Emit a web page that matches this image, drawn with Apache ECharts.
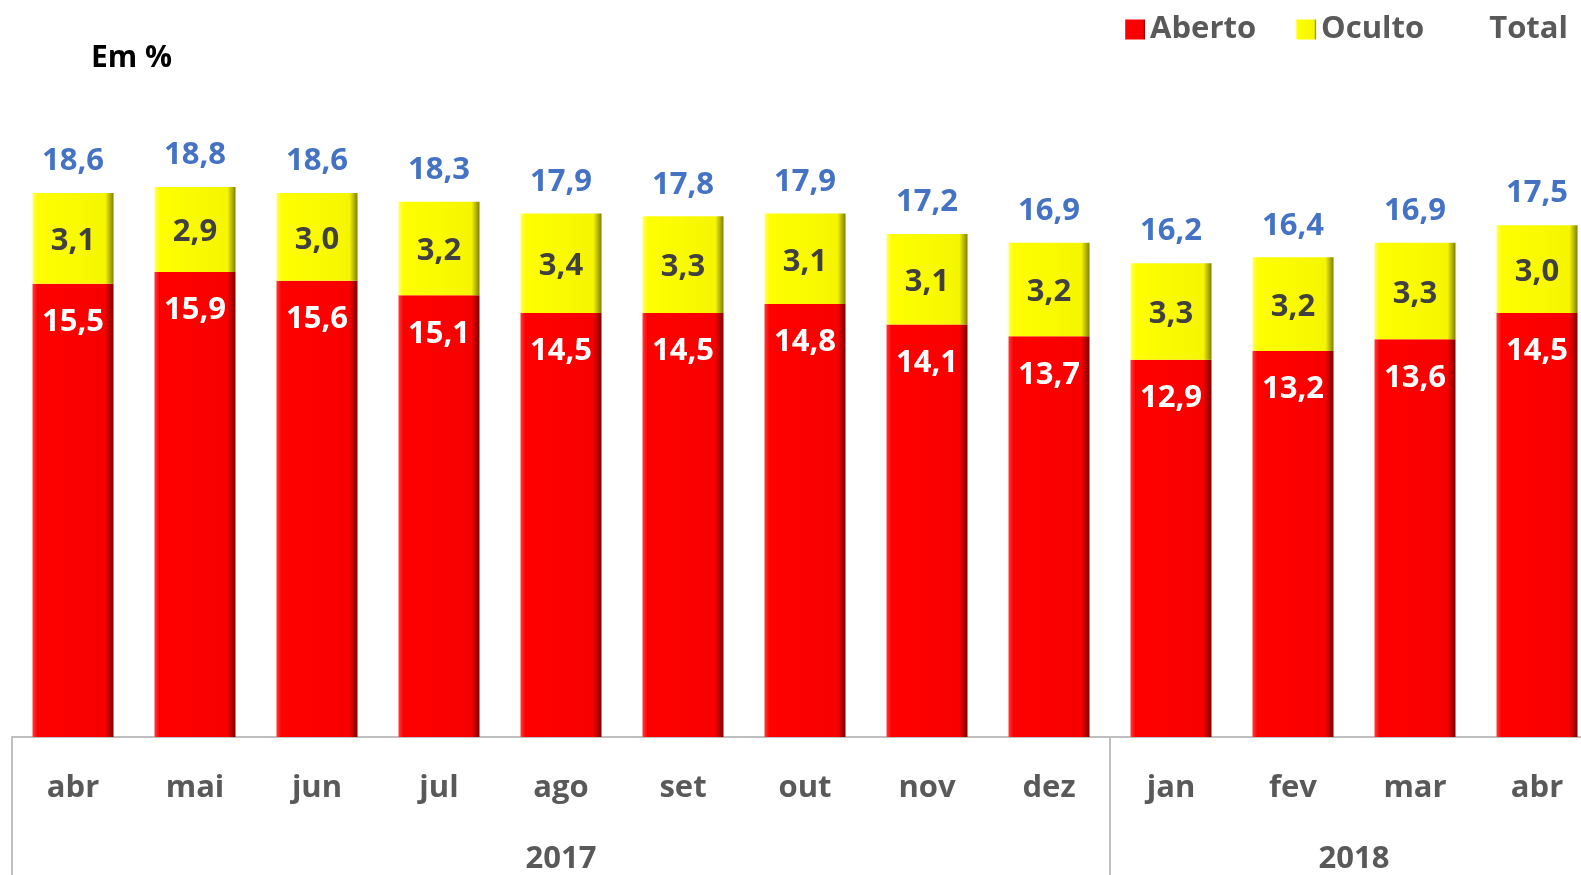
<!DOCTYPE html>
<html>
<head>
<meta charset="utf-8">
<script src="https://cdn.jsdelivr.net/npm/echarts@6/dist/echarts.min.js"></script>
<style>
  html, body { margin: 0; padding: 0; background: #fff; }
  #chart { width: 1581px; height: 875px; }
</style>
</head>
<body>
<div id="chart"></div>
<script>
let months = ['abr', 'mai', 'jun', 'jul', 'ago', 'set', 'out', 'nov', 'dez', 'jan', 'fev', 'mar', 'abr'];
let aberto = [15.5, 15.9, 15.6, 15.1, 14.5, 14.5, 14.8, 14.1, 13.7, 12.9, 13.2, 13.6, 14.5];
let oculto = [3.1, 2.9, 3.0, 3.2, 3.4, 3.3, 3.1, 3.1, 3.2, 3.3, 3.2, 3.3, 3.0];
let total = [18.6, 18.8, 18.6, 18.3, 17.9, 17.8, 17.9, 17.2, 16.9, 16.2, 16.4, 16.9, 17.5];
// years: label, first and last month index
let years = [['2017', 0, 8], ['2018', 9, 12]];

let chartDom = document.getElementById('chart');
let myChart = echarts.init(chartDom);
let font = 'Open Sans';
let fmt = function (p) { return p.value.toFixed(1).replace('.', ','); };

let redFill = new echarts.graphic.LinearGradient(0, 0, 1, 0, [
  { offset: 0, color: '#ff3a3a' },
  { offset: 0.06, color: '#ff0000' },
  { offset: 0.9, color: '#f80000' },
  { offset: 1, color: '#7a0000' }
]);
let yellowFill = new echarts.graphic.LinearGradient(0, 0, 1, 0, [
  { offset: 0, color: '#ffff70' },
  { offset: 0.06, color: '#ffff00' },
  { offset: 0.9, color: '#f5f500' },
  { offset: 1, color: '#808000' }
]);

let option = {
  animation: false,
  title: {
    text: 'Em %',
    left: 86,
    top: 38,
    textStyle: { fontFamily: font, fontSize: 30, fontWeight: 'bold', color: '#000' }
  },
  legend: {
    right: 8,
    top: 9,
    icon: 'rect',
    itemWidth: 20,
    itemHeight: 20,
    itemGap: 40,
    textStyle: { fontFamily: font, fontSize: 31, fontWeight: 'bold', color: '#595959' },
    data: [
      { name: 'Aberto' },
      { name: 'Oculto' },
      { name: 'Total', icon: 'none' }
    ]
  },
  grid: {
    left: 12,
    right: -17,
    top: 152,
    bottom: 138,
    outerBoundsMode: 'none'
  },
  xAxis: {
    type: 'category',
    data: months,
    axisLine: { lineStyle: { color: '#bfbfbf', width: 2 } },
    axisTick: {
      show: true,
      length: 140,
      lineStyle: { color: '#bfbfbf', width: 2 },
      interval: function (index) { return index === 0 || index === 9; }
    },
    axisLabel: {
      interval: 0,
      margin: 36,
      fontFamily: font,
      fontSize: 31,
      fontWeight: 'bold',
      color: '#595959'
    }
  },
  yAxis: {
    type: 'value',
    min: 0,
    max: 20,
    show: false,
    splitLine: { show: false }
  },
  series: [
    {
      name: 'Aberto',
      type: 'bar',
      stack: 'tot',
      barWidth: 81,
      itemStyle: { color: redFill },
      label: {
        show: true,
        position: 'insideTop',
        distance: 23,
        formatter: fmt,
        fontFamily: font,
        fontSize: 31,
        fontWeight: 'bold',
        color: '#ffffff'
      },
      data: aberto
    },
    {
      name: 'Oculto',
      type: 'bar',
      stack: 'tot',
      barWidth: 81,
      itemStyle: { color: yellowFill },
      label: {
        show: true,
        position: 'inside',
        offset: [0, 3],
        formatter: fmt,
        fontFamily: font,
        fontSize: 31,
        fontWeight: 'bold',
        color: '#404040'
      },
      data: oculto
    },
    {
      name: 'Total',
      type: 'bar',
      barWidth: 81,
      barGap: '-100%',
      z: 1,
      itemStyle: { color: 'rgba(0,0,0,0)' },
      label: {
        show: true,
        position: 'top',
        distance: 16,
        formatter: fmt,
        fontFamily: font,
        fontSize: 31,
        fontWeight: 'bold',
        color: '#4472c4'
      },
      data: total
    }
  ]
};

option && myChart.setOption(option);

// year labels centred under their months, placed through the axis scale
let yearText = years.map(function (y) {
  let x0 = myChart.convertToPixel({ xAxisIndex: 0 }, y[1]);
  let x1 = myChart.convertToPixel({ xAxisIndex: 0 }, y[2]);
  return {
    type: 'text',
    x: (x0 + x1) / 2,
    y: 859,
    style: {
      text: y[0],
      fontFamily: font,
      fontSize: 31,
      fontWeight: 'bold',
      fill: '#595959',
      align: 'center',
      verticalAlign: 'middle'
    }
  };
});
myChart.setOption({ graphic: yearText });
</script>
</body>
</html>
